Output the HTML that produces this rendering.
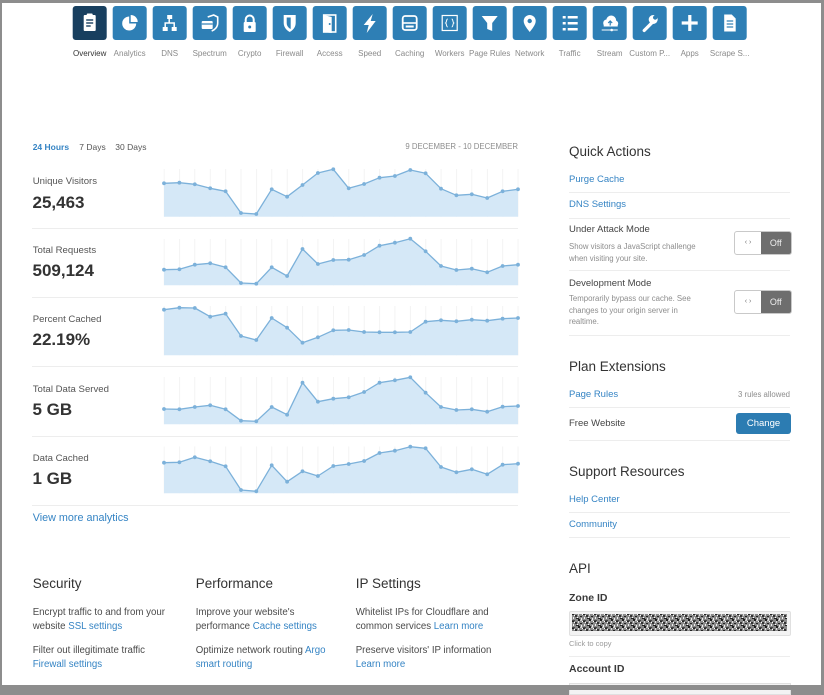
<!DOCTYPE html>
<html><head><meta charset="utf-8">
<style>
html,body{margin:0;padding:0;}
body{width:824px;height:690px;background:#8d8d8d;position:relative;overflow:hidden;font-family:"Liberation Sans",Arial,sans-serif;}
#page{position:absolute;left:2px;top:3px;width:818.5px;height:682px;background:#fff;}
.t{position:absolute;white-space:nowrap;line-height:1;}
.lbl{font-size:8px;color:#8a8a8a;width:40px;text-align:center;top:50px;}
.ml{font-size:9.6px;color:#555;left:32.7px;}
.num{font-size:17px;font-weight:bold;color:#333;left:32.5px;}
.h{font-size:13.5px;color:#333;}
.b{font-size:9.7px;color:#4a4a4a;}
.a{color:#3584c4;}
.r{font-size:9.5px;}
.d{font-size:7.8px;color:#8d8d8d;}
.sep{position:absolute;height:1px;background:#ededed;}
.tog{position:absolute;left:734px;width:55.5px;border:1px solid #c9c9c9;border-radius:3px;overflow:hidden;background:#fff;}
.tog .l{position:absolute;left:0;top:0;bottom:0;width:26px;color:#777;font-size:7px;text-align:center;}
.tog .o{position:absolute;left:26px;right:0;top:0;bottom:0;background:#6e6e6e;color:#eee;font-size:9px;text-align:center;}
</style></head>
<body>
<div id="page"></div>

<!-- icon bar -->
<svg style="position:absolute;left:0;top:0" width="824" height="46">
<g fill="#fff" stroke="none">
<g transform="translate(72.7,6)"><rect width="34" height="34" rx="3" fill="#183f5f"/><rect x="11" y="9" width="12" height="16" rx="1"/><rect x="14" y="7.5" width="6" height="3" rx="1" fill="#fff"/><g stroke="#183f5f" stroke-width="1.4"><line x1="13.5" y1="14" x2="20.5" y2="14"/><line x1="13.5" y1="17" x2="20.5" y2="17"/><line x1="13.5" y1="20" x2="18" y2="20"/></g></g>
<g transform="translate(112.7,6)"><rect width="34" height="34" rx="3" fill="#2e7fb5"/><path d="M16.5 17.5V10.5A7 7 0 1 0 23.5 17.5Z"/><path d="M18 16V9A7 7 0 0 1 25 16Z"/></g>
<g transform="translate(152.7,6)"><rect width="34" height="34" rx="3" fill="#2e7fb5"/><rect x="14.5" y="9" width="5" height="4"/><rect x="10" y="21" width="5" height="4"/><rect x="19" y="21" width="5" height="4"/><path d="M16.5 13v4M12.5 21v-4h9v4" stroke="#fff" stroke-width="1.5" fill="none"/></g>
<g transform="translate(192.7,6)"><rect width="34" height="34" rx="3" fill="#2e7fb5"/><path d="M15 11L21 9L25 11V17C25 21 22 24 19 25" stroke="#fff" stroke-width="1.6" fill="none"/><rect x="9" y="15" width="11" height="8" rx="1"/><line x1="9" y1="18" x2="20" y2="18" stroke="#2e7fb5" stroke-width="1.2"/></g>
<g transform="translate(232.7,6)"><rect width="34" height="34" rx="3" fill="#2e7fb5"/><path d="M13 17V13.5A4 4 0 0 1 21 13.5V17" stroke="#fff" stroke-width="2" fill="none"/><rect x="11" y="16" width="12" height="10" rx="1"/><circle cx="17" cy="21" r="1.5" fill="#2e7fb5"/></g>
<g transform="translate(272.7,6)"><rect width="34" height="34" rx="3" fill="#2e7fb5"/><path d="M11 9H23V17C23 22 19 25 17 26C15 25 11 22 11 17Z"/><path d="M14 11.5H18V23C16 22 14 20 14 17Z" fill="#2e7fb5"/></g>
<g transform="translate(312.7,6)"><rect width="34" height="34" rx="3" fill="#2e7fb5"/><rect x="11" y="9" width="12" height="17" stroke="#fff" stroke-width="1.6" fill="none"/><path d="M11 9L19 11V27L11 26Z"/><circle cx="17" cy="18" r="1" fill="#2e7fb5"/></g>
<g transform="translate(352.7,6)"><rect width="34" height="34" rx="3" fill="#2e7fb5"/><polygon points="20,8 11,19 16,19 14,27 23,15 18,15"/></g>
<g transform="translate(392.7,6)"><rect width="34" height="34" rx="3" fill="#2e7fb5"/><rect x="10" y="10" width="14" height="14" rx="2.5" stroke="#fff" stroke-width="1.8" fill="none"/><line x1="10" y1="17" x2="24" y2="17" stroke="#fff" stroke-width="1.6"/><rect x="13" y="19.5" width="8" height="2"/></g>
<g transform="translate(432.7,6)"><rect width="34" height="34" rx="3" fill="#2e7fb5"/><rect x="9.5" y="9.5" width="15" height="15" stroke="#fff" stroke-width="1.2" fill="none"/><path d="M15 13C13.5 13 14 16.5 13 17C14 17.5 13.5 21 15 21M19 13C20.5 13 20 16.5 21 17C20 17.5 20.5 21 19 21" stroke="#fff" stroke-width="1" fill="none"/></g>
<g transform="translate(472.7,6)"><rect width="34" height="34" rx="3" fill="#2e7fb5"/><polygon points="9,10 25,10 19.5,17 19.5,25 14.5,23 14.5,17"/></g>
<g transform="translate(512.7,6)"><rect width="34" height="34" rx="3" fill="#2e7fb5"/><path d="M17 26C12.5 20.5 11 17.5 11 15A6 6 0 0 1 23 15C23 17.5 21.5 20.5 17 26Z"/><circle cx="17" cy="15" r="2.2" fill="#2e7fb5"/></g>
<g transform="translate(552.7,6)"><rect width="34" height="34" rx="3" fill="#2e7fb5"/><rect x="10" y="10" width="3" height="2.5"/><rect x="10" y="16" width="3" height="2.5"/><rect x="10" y="22" width="3" height="2.5"/><rect x="15" y="10" width="10" height="2.5"/><rect x="15" y="16" width="10" height="2.5"/><rect x="15" y="22" width="10" height="2.5"/></g>
<g transform="translate(592.7,6)"><rect width="34" height="34" rx="3" fill="#2e7fb5"/><circle cx="14" cy="17" r="3.5"/><circle cx="18.5" cy="14.5" r="5"/><circle cx="22.5" cy="17.5" r="3"/><rect x="11" y="17" width="14" height="3.5"/><path d="M17.5 19.5V15.5M15.5 17L17.5 15L19.5 17" stroke="#2e7fb5" stroke-width="1.2" fill="none"/><line x1="9" y1="24" x2="25" y2="24" stroke="#fff" stroke-width="1"/><circle cx="19" cy="24" r="1.3"/></g>
<g transform="translate(632.7,6)"><rect width="34" height="34" rx="3" fill="#2e7fb5"/><line x1="11.5" y1="24.5" x2="19" y2="17" stroke="#fff" stroke-width="3.2" stroke-linecap="round"/><circle cx="20.5" cy="13.5" r="4.5"/><circle cx="22.5" cy="11.5" r="2.2" fill="#2e7fb5"/></g>
<g transform="translate(672.7,6)"><rect width="34" height="34" rx="3" fill="#2e7fb5"/><rect x="15.5" y="9" width="3.2" height="16"/><rect x="9" y="15.4" width="16" height="3.2"/></g>
<g transform="translate(712.7,6)"><rect width="34" height="34" rx="3" fill="#2e7fb5"/><path d="M11.5 8.5H19L23 12.5V25.5H11.5Z"/><g stroke="#2e7fb5" stroke-width="1.2"><line x1="14" y1="15" x2="20.5" y2="15"/><line x1="14" y1="18" x2="20.5" y2="18"/><line x1="14" y1="21" x2="20.5" y2="21"/></g></g>
</g>
</svg>

<div class="t lbl" style="left:69.7px;color:#333">Overview</div>
<div class="t lbl" style="left:109.7px">Analytics</div>
<div class="t lbl" style="left:149.7px">DNS</div>
<div class="t lbl" style="left:189.7px">Spectrum</div>
<div class="t lbl" style="left:229.7px">Crypto</div>
<div class="t lbl" style="left:269.7px">Firewall</div>
<div class="t lbl" style="left:309.7px">Access</div>
<div class="t lbl" style="left:349.7px">Speed</div>
<div class="t lbl" style="left:389.7px">Caching</div>
<div class="t lbl" style="left:429.7px">Workers</div>
<div class="t lbl" style="left:469.7px;width:42px;margin-left:-1px">Page Rules</div>
<div class="t lbl" style="left:509.7px">Network</div>
<div class="t lbl" style="left:549.7px">Traffic</div>
<div class="t lbl" style="left:589.7px">Stream</div>
<div class="t lbl" style="left:627.7px;width:44px">Custom P...</div>
<div class="t lbl" style="left:669.7px">Apps</div>
<div class="t lbl" style="left:707.7px;width:44px">Scrape S...</div>

<!-- period selector -->
<div class="t" style="left:32.7px;top:143px;font-size:8.5px;color:#3584c4;font-weight:bold">24 Hours</div>
<div class="t" style="left:79.3px;top:143px;font-size:8.5px;color:#555">7 Days</div>
<div class="t" style="left:115.3px;top:143px;font-size:8.5px;color:#555">30 Days</div>
<div class="t d" style="right:306px;top:143.3px">9 DECEMBER - 10 DECEMBER</div>

<!-- charts -->
<svg style="position:absolute;left:0;top:0" width="824" height="690">
<defs>
<pattern id="grid" patternUnits="userSpaceOnUse" x="163.7" y="0" width="15.391" height="700"><rect x="0" y="0" width="0.7" height="700" fill="#eeeeee"/></pattern>
<marker id="dot" markerUnits="userSpaceOnUse" markerWidth="5" markerHeight="5" refX="2.5" refY="2.5"><circle cx="2.5" cy="2.5" r="1.9" fill="#7cb1da"/></marker>
</defs>
<g>
<rect x="163.7" y="169" width="355" height="47.7" fill="url(#grid)"/>
<rect x="163.7" y="239" width="355" height="46.3" fill="url(#grid)"/>
<rect x="163.7" y="306" width="355" height="49.3" fill="url(#grid)"/>
<rect x="163.7" y="377" width="355" height="47.3" fill="url(#grid)"/>
<rect x="163.7" y="446.5" width="355" height="46.8" fill="url(#grid)"/>
</g>
<g fill="#d5e8f7" stroke="none">
<polygon points="164,183.3 179.4,182.7 194.8,184.3 210.2,188.3 225.6,191.3 241,213 256.3,214 271.7,189.3 287.1,196.7 302.5,185 317.9,173 333.3,169.3 348.7,188.3 364.1,184 379.5,177.7 394.9,176 410.3,170 425.6,173.3 441,188.7 456.4,195.3 471.8,194.3 487.2,198 502.6,191.3 518,189.3 518,216.7 164,216.7"/>
<polygon points="164,269.7 179.4,269.3 194.8,264.7 210.2,263.3 225.6,267.3 241,283 256.3,283.7 271.7,267.3 287.1,276 302.5,249 317.9,264 333.3,260 348.7,259.7 364.1,255 379.5,245.7 394.9,242.7 410.3,238.7 425.6,251.3 441,266 456.4,270 471.8,268.7 487.2,272.3 502.6,266 518,264.7 518,285.3 164,285.3"/>
<polygon points="164,309.7 179.4,307.7 194.8,308 210.2,316.7 225.6,313.7 241,336 256.3,340 271.7,318 287.1,327.7 302.5,342.7 317.9,337.3 333.3,330.3 348.7,330 364.1,332 379.5,332.3 394.9,332.3 410.3,332 425.6,321.7 441,320.3 456.4,321.3 471.8,319.7 487.2,320.7 502.6,318.7 518,318 518,355.3 164,355.3"/>
<polygon points="164,409 179.4,409.3 194.8,407 210.2,405.3 225.6,409.3 241,420.7 256.3,421.3 271.7,407 287.1,414.7 302.5,382.7 317.9,401.7 333.3,398.7 348.7,397.3 364.1,392 379.5,382.7 394.9,380.3 410.3,377.3 425.6,392.7 441,407 456.4,410 471.8,409.3 487.2,411.7 502.6,406.7 518,406 518,424.3 164,424.3"/>
<polygon points="164,462.7 179.4,462.3 194.8,457.3 210.2,461.3 225.6,466.3 241,490 256.3,491.3 271.7,465.3 287.1,481.7 302.5,471.3 317.9,476 333.3,466 348.7,464 364.1,461 379.5,453 394.9,450.7 410.3,446.7 425.6,448.3 441,467 456.4,472.3 471.8,469.3 487.2,474.3 502.6,464.7 518,463.7 518,493.3 164,493.3"/>
</g>
<g fill="none" stroke="#7cb1da" stroke-width="1.3" stroke-linejoin="round" marker-start="url(#dot)" marker-mid="url(#dot)" marker-end="url(#dot)">
<polyline points="164,183.3 179.4,182.7 194.8,184.3 210.2,188.3 225.6,191.3 241,213 256.3,214 271.7,189.3 287.1,196.7 302.5,185 317.9,173 333.3,169.3 348.7,188.3 364.1,184 379.5,177.7 394.9,176 410.3,170 425.6,173.3 441,188.7 456.4,195.3 471.8,194.3 487.2,198 502.6,191.3 518,189.3"/>
<polyline points="164,269.7 179.4,269.3 194.8,264.7 210.2,263.3 225.6,267.3 241,283 256.3,283.7 271.7,267.3 287.1,276 302.5,249 317.9,264 333.3,260 348.7,259.7 364.1,255 379.5,245.7 394.9,242.7 410.3,238.7 425.6,251.3 441,266 456.4,270 471.8,268.7 487.2,272.3 502.6,266 518,264.7"/>
<polyline points="164,309.7 179.4,307.7 194.8,308 210.2,316.7 225.6,313.7 241,336 256.3,340 271.7,318 287.1,327.7 302.5,342.7 317.9,337.3 333.3,330.3 348.7,330 364.1,332 379.5,332.3 394.9,332.3 410.3,332 425.6,321.7 441,320.3 456.4,321.3 471.8,319.7 487.2,320.7 502.6,318.7 518,318"/>
<polyline points="164,409 179.4,409.3 194.8,407 210.2,405.3 225.6,409.3 241,420.7 256.3,421.3 271.7,407 287.1,414.7 302.5,382.7 317.9,401.7 333.3,398.7 348.7,397.3 364.1,392 379.5,382.7 394.9,380.3 410.3,377.3 425.6,392.7 441,407 456.4,410 471.8,409.3 487.2,411.7 502.6,406.7 518,406"/>
<polyline points="164,462.7 179.4,462.3 194.8,457.3 210.2,461.3 225.6,466.3 241,490 256.3,491.3 271.7,465.3 287.1,481.7 302.5,471.3 317.9,476 333.3,466 348.7,464 364.1,461 379.5,453 394.9,450.7 410.3,446.7 425.6,448.3 441,467 456.4,472.3 471.8,469.3 487.2,474.3 502.6,464.7 518,463.7"/>
</g>
</svg>

<!-- left separators -->
<div class="sep" style="left:32px;width:486px;top:228px"></div>
<div class="sep" style="left:32px;width:486px;top:296.5px"></div>
<div class="sep" style="left:32px;width:486px;top:365.5px"></div>
<div class="sep" style="left:32px;width:486px;top:435.5px"></div>
<div class="sep" style="left:32px;width:486px;top:504.5px"></div>

<!-- metric labels -->
<div class="t ml" style="top:177.3px">Unique Visitors</div>
<div class="t num" style="top:193.5px">25,463</div>
<div class="t ml" style="top:245.7px">Total Requests</div>
<div class="t num" style="top:261.8px">509,124</div>
<div class="t ml" style="top:315px">Percent Cached</div>
<div class="t num" style="top:331.1px">22.19%</div>
<div class="t ml" style="top:384.7px">Total Data Served</div>
<div class="t num" style="top:400.8px">5 GB</div>
<div class="t ml" style="top:453.7px">Data Cached</div>
<div class="t num" style="top:469.5px">1 GB</div>

<div class="t a" style="left:32.7px;top:513px;font-size:10.8px">View more analytics</div>

<!-- bottom sections -->
<div class="t h" style="left:32.7px;top:577.3px">Security</div>
<div class="t b" style="left:32.7px;top:607.7px">Encrypt traffic to and from your</div>
<div class="t b" style="left:32.7px;top:621.7px">website <span class="a">SSL settings</span></div>
<div class="t b" style="left:32.7px;top:646px">Filter out illegitimate traffic</div>
<div class="t b a" style="left:32.7px;top:660.3px">Firewall settings</div>

<div class="t h" style="left:195.7px;top:577.3px">Performance</div>
<div class="t b" style="left:195.7px;top:607.7px">Improve your website's</div>
<div class="t b" style="left:195.7px;top:621.7px">performance <span class="a">Cache settings</span></div>
<div class="t b" style="left:195.7px;top:646px">Optimize network routing <span class="a">Argo</span></div>
<div class="t b a" style="left:195.7px;top:660.3px">smart routing</div>

<div class="t h" style="left:355.7px;top:577.3px">IP Settings</div>
<div class="t b" style="left:355.7px;top:607.7px">Whitelist IPs for Cloudflare and</div>
<div class="t b" style="left:355.7px;top:621.7px">common services <span class="a">Learn more</span></div>
<div class="t b" style="left:355.7px;top:646px">Preserve visitors' IP information</div>
<div class="t b a" style="left:355.7px;top:660.3px">Learn more</div>

<!-- right column -->
<div class="t h" style="left:569px;top:144.7px">Quick Actions</div>
<div class="t r a" style="left:569px;top:175px">Purge Cache</div>
<div class="sep" style="left:569px;width:221px;top:192px"></div>
<div class="t r a" style="left:569px;top:200px">DNS Settings</div>
<div class="sep" style="left:569px;width:221px;top:217.5px"></div>
<div class="t r" style="left:569px;top:225px;color:#444">Under Attack Mode</div>
<div class="t d" style="left:569px;top:243.2px">Show visitors a JavaScript challenge</div>
<div class="t d" style="left:569px;top:254.6px">when visiting your site.</div>
<div class="tog" style="top:230.5px;height:22px"><div class="l" style="line-height:22px">‹ ›</div><div class="o" style="line-height:22px">Off</div></div>
<div class="sep" style="left:569px;width:221px;top:270px"></div>
<div class="t r" style="left:569px;top:279px;color:#444">Development Mode</div>
<div class="t d" style="left:569px;top:295.2px">Temporarily bypass our cache. See</div>
<div class="t d" style="left:569px;top:306.6px">changes to your origin server in</div>
<div class="t d" style="left:569px;top:317.9px">realtime.</div>
<div class="tog" style="top:290px;height:22px"><div class="l" style="line-height:22px">‹ ›</div><div class="o" style="line-height:22px">Off</div></div>
<div class="sep" style="left:569px;width:221px;top:334.5px"></div>

<div class="t h" style="left:569px;top:359.7px">Plan Extensions</div>
<div class="t r a" style="left:569px;top:390px">Page Rules</div>
<div class="t d" style="right:34px;top:391px">3 rules allowed</div>
<div class="sep" style="left:569px;width:221px;top:407px"></div>
<div class="t r" style="left:569px;top:419px;color:#444">Free Website</div>
<div style="position:absolute;left:736px;top:412.7px;width:55px;height:21.6px;background:#2c7cb2;border-radius:3px;color:#fff;font-size:9.5px;text-align:center;line-height:21.6px">Change</div>
<div class="sep" style="left:569px;width:221px;top:439.5px"></div>

<div class="t h" style="left:569px;top:464.7px">Support Resources</div>
<div class="t r a" style="left:569px;top:495px">Help Center</div>
<div class="sep" style="left:569px;width:221px;top:512px"></div>
<div class="t r a" style="left:569px;top:520px">Community</div>
<div class="sep" style="left:569px;width:221px;top:537px"></div>

<div class="t h" style="left:569px;top:562.3px">API</div>
<div class="t" style="left:569px;top:592.8px;font-size:10.5px;font-weight:bold;color:#3a3a3a">Zone ID</div>
<div style="position:absolute;left:569px;top:611px;width:220px;height:22.5px;background:#f3f3f3;border:1px solid #e0e0e0;border-radius:2px"></div>
<svg style="position:absolute;left:572px;top:614px" width="215" height="17">
<defs><pattern id="nz" patternUnits="userSpaceOnUse" width="11" height="7">
<rect width="11" height="7" fill="#8a8a8a"/>
<rect x="0" y="0" width="2" height="1" fill="#222"/><rect x="3" y="1" width="2" height="2" fill="#333"/><rect x="6" y="0" width="1" height="2" fill="#ddd"/><rect x="8" y="2" width="2" height="1" fill="#222"/><rect x="1" y="3" width="1" height="2" fill="#eee"/><rect x="4" y="4" width="3" height="1" fill="#222"/><rect x="9" y="4" width="1" height="2" fill="#f0f0f0"/><rect x="0" y="6" width="3" height="1" fill="#444"/><rect x="6" y="5" width="2" height="2" fill="#1e1e1e"/><rect x="2" y="1" width="1" height="1" fill="#fff"/><rect x="10" y="0" width="1" height="1" fill="#fff"/><rect x="5" y="3" width="1" height="1" fill="#fff"/><rect x="8" y="6" width="2" height="1" fill="#ccc"/>
</pattern></defs>
<rect width="215" height="17" fill="url(#nz)"/>
</svg>
<div class="t" style="left:569px;top:640.3px;font-size:7.5px;color:#9a9a9a">Click to copy</div>
<div class="sep" style="left:569px;width:221px;top:655.5px"></div>
<div class="t" style="left:569px;top:663.8px;font-size:10.5px;font-weight:bold;color:#3a3a3a">Account ID</div>
<div style="position:absolute;left:569px;top:682.5px;width:220px;height:10px;background:#f3f3f3;border:1px solid #e0e0e0"></div>
<!-- frame overlay bottom/right to cover -->
<div style="position:absolute;left:0;top:685px;width:824px;height:5px;background:#8d8d8d"></div>
<div style="position:absolute;left:820.5px;top:0;width:3.5px;height:690px;background:#8d8d8d"></div>
</body></html>
